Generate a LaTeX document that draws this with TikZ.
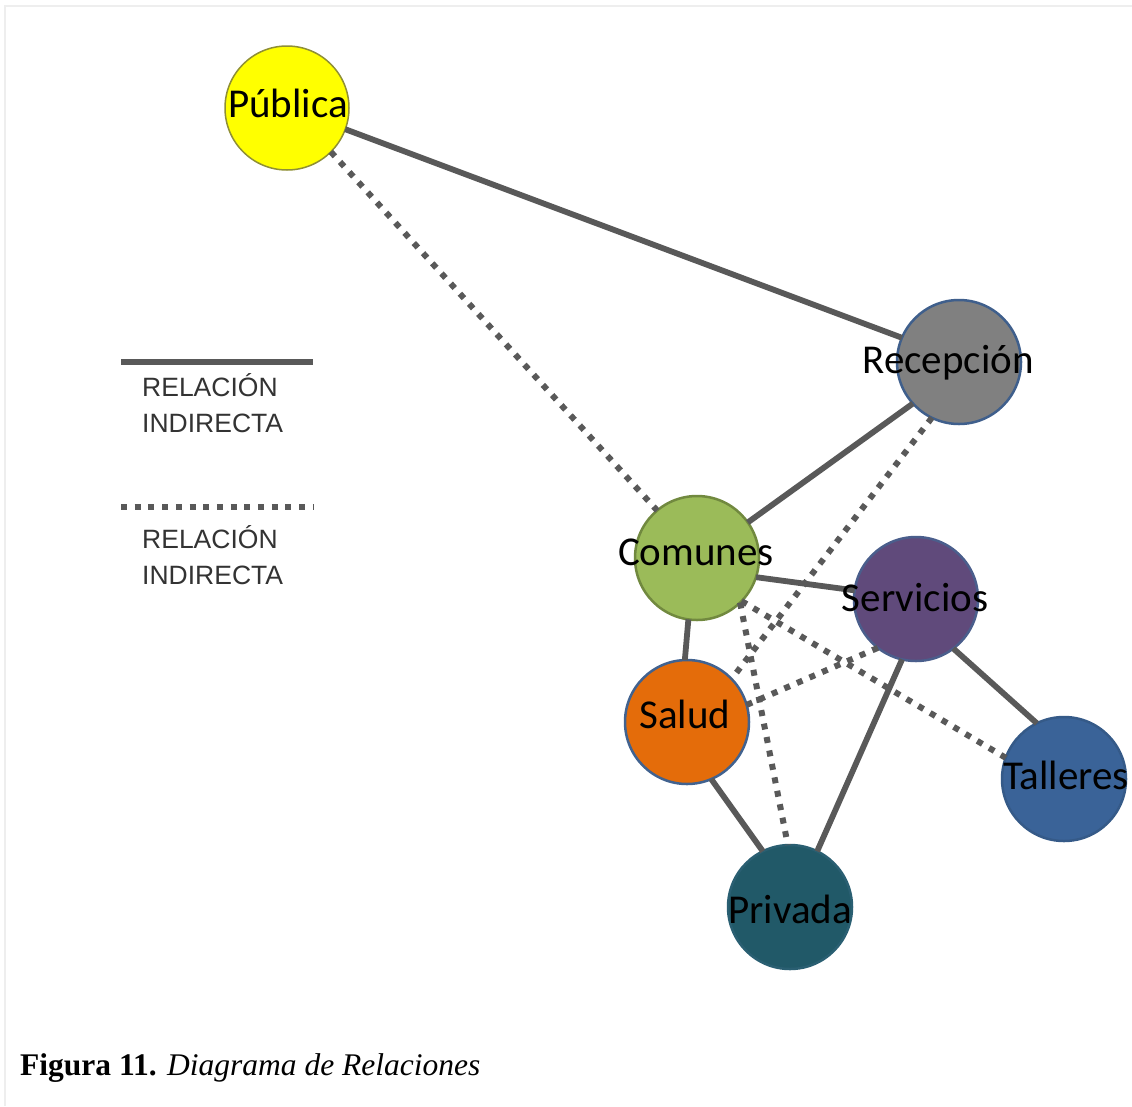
\documentclass[tikz,border=0pt]{standalone}
\usepackage{fontspec}
\setmainfont{Liberation Serif}
\newfontfamily\calfont{Carlito}
\newfontfamily\arialfont{Liberation Sans}
\definecolor{edgegray}{HTML}{595959}
\definecolor{legtext}{HTML}{333333}
\definecolor{pubfill}{HTML}{FFFF00}
\definecolor{pubdraw}{HTML}{8F8F35}
\definecolor{recfill}{HTML}{808080}
\definecolor{recdraw}{HTML}{3F5F8C}
\definecolor{comfill}{HTML}{9BBB59}
\definecolor{comdraw}{HTML}{71893F}
\definecolor{serfill}{HTML}{604A7B}
\definecolor{serdraw}{HTML}{4A5E8C}
\definecolor{salfill}{HTML}{E46C0A}
\definecolor{saldraw}{HTML}{41628F}
\definecolor{talfill}{HTML}{3A6398}
\definecolor{taldraw}{HTML}{355A88}
\definecolor{prifill}{HTML}{215968}
\definecolor{pridraw}{HTML}{2A5F72}
\definecolor{framegray}{HTML}{EEEEEE}
\tikzset{
  bubble/.style={circle, minimum size=124pt, inner sep=0pt, outer sep=0pt, line width=2.5pt},
  lbl/.style={anchor=base, inner sep=0pt, font=\calfont\fontsize{41}{49}\selectfont, text=black},
  solidrel/.style={draw=edgegray, line width=5.8pt},
  dotrel/.style={draw=edgegray, line width=6pt, dash pattern=on 6pt off 7.7pt},
  legtxt/.style={anchor=base west, inner sep=0pt, font=\arialfont\fontsize{26.5}{30}\selectfont, text=legtext},
  captxt/.style={anchor=base west, inner sep=0pt, font=\fontsize{31.5}{36}\selectfont, text=black}
}
\begin{document}
\begin{tikzpicture}[x=1pt, y=-1pt]
\useasboundingbox (0,0) rectangle (1132,1106);
\fill[white] (0,0) rectangle (1132,1106);
% faint frame
\draw[framegray, line width=1.5pt] (5,1106) -- (5,6) -- (1132,6);

% circles
\node[bubble, fill=pubfill, draw=pubdraw, line width=1.5pt] (pub) at (287,108) {};
\node[bubble, fill=recfill, draw=recdraw] (rec) at (959,362) {};
\node[bubble, fill=comfill, draw=comdraw] (com) at (697,558) {};
\node[bubble, fill=serfill, draw=serdraw] (ser) at (916,599) {};
\node[bubble, fill=salfill, draw=saldraw] (sal) at (687,722) {};
\node[bubble, fill=talfill, draw=taldraw] (tal) at (1064,779) {};
\node[bubble, fill=prifill, draw=pridraw] (pri) at (790,907) {};

% solid relations
\draw[solidrel] (pub.-20) -- (rec.157);
\draw[solidrel] (rec.222) -- (com.35);
\draw[solidrel] (com.-18) -- (ser.172);
\draw[solidrel] (com.262) -- (sal.92);
\draw[solidrel] (ser.-53) -- (tal.116);
\draw[solidrel] (ser.257) -- (pri.64);
\draw[solidrel] (sal.-67) -- (pri.116);

% dotted relations
\draw[dotrel] (pub.-45) -- (com.130);
\draw[dotrel] (rec.244) -- (sal.44);
\draw[dotrel] (com.-44) -- (tal.160);
\draw[dotrel] (ser.232) -- (sal.16);
\draw[dotrel] (com.-46) -- (pri.92);

% labels
\node[lbl] (pubt) at (288,117) {Pública};
\node[lbl] (rect) at (948,373) {Recepción};
\node[lbl] (comt) at (696,565) {Comunes};
\node[lbl] (sert) at (915,611) {Servicios};
\node[lbl] (salt) at (685,728) {Salud};
\node[lbl] (talt) at (1066,789) {Talleres};
\node[lbl] (prit) at (790,923) {Privada};

% legend
\coordinate (ls1) at (121,362);
\coordinate (ls2) at (313,362);
\draw[solidrel] (ls1) -- (ls2);
\node[legtxt] (lt1) at (142,396) {RELACIÓN};
\node[legtxt] (lt2) at (142,432) {INDIRECTA};
\coordinate (ld1) at (121,507);
\coordinate (ld2) at (313,507);
\draw[dotrel] (ld1) -- (ld2);
\node[legtxt] (lt3) at (142,548) {RELACIÓN};
\node[legtxt] (lt4) at (142,584) {INDIRECTA};

% caption
\node[captxt] (cap) at (20,1075) {\textbf{Figura 11.} \textit{Diagrama de Relaciones}};
\end{tikzpicture}
\end{document}
